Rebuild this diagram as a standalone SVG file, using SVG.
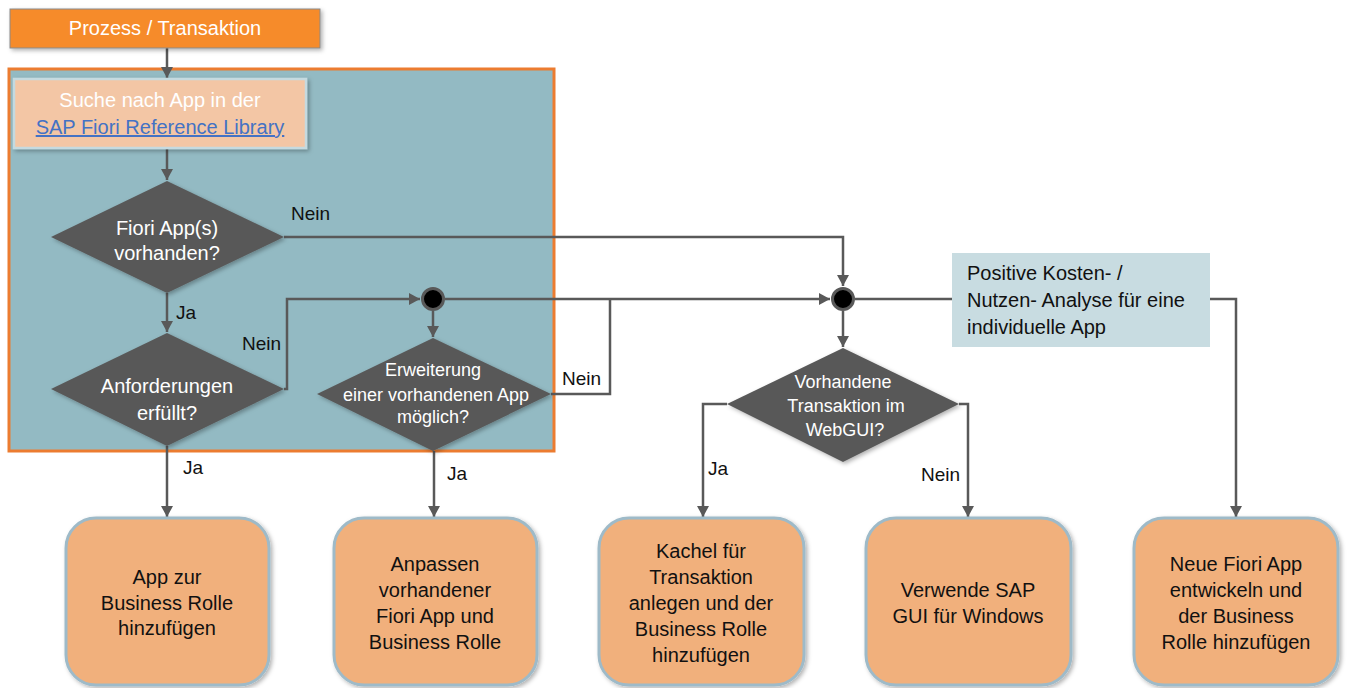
<svg xmlns="http://www.w3.org/2000/svg" width="1352" height="688" viewBox="0 0 1352 688">
<defs>
<style>
text{font-family:"Liberation Sans",Arial,sans-serif}
.w{fill:#ffffff}
.k{fill:#111111}
.c{text-anchor:middle}
.f20{font-size:20px}
.f18{font-size:18px}
.lbl{font-size:19px;fill:#111111}
.con{fill:none;stroke:#595959;stroke-width:2.5}
.dia{fill:#595959}
.res{fill:#F1B07B;stroke:#9EBAC8;stroke-width:3}
.jn{fill:#000000;stroke:#595959;stroke-width:3}
</style>
<marker id="ah" markerUnits="userSpaceOnUse" markerWidth="12" markerHeight="12" refX="11" refY="6" orient="auto">
<path d="M0,0 L11,6 L0,12 z" fill="#595959"/>
</marker>
<filter id="sh" x="-10%" y="-10%" width="130%" height="130%">
<feDropShadow dx="2" dy="2" stdDeviation="2" flood-color="#000000" flood-opacity="0.3"/>
</filter>
</defs>
<rect width="1352" height="688" fill="#ffffff"/>

<g id="container">
<rect x="9" y="69" width="545" height="382" fill="#93BAC3" stroke="#EC7C30" stroke-width="3"/>
</g>

<g id="connectors">
<line class="con" x1="167" y1="48" x2="167" y2="78" marker-end="url(#ah)"/>
<line class="con" x1="167" y1="148" x2="167" y2="180" marker-end="url(#ah)"/>
<line class="con" x1="167" y1="293" x2="167" y2="332" marker-end="url(#ah)"/>
<polyline class="con" points="284,389 287,389 287,299 420,299" marker-end="url(#ah)"/>
<line class="con" x1="433" y1="311" x2="433" y2="337" marker-end="url(#ah)"/>
<line class="con" x1="445" y1="299" x2="830" y2="299" marker-end="url(#ah)"/>
<polyline class="con" points="551,394 610,394 610,299"/>
<polyline class="con" points="284,237 843,237 843,286" marker-end="url(#ah)"/>
<line class="con" x1="855" y1="299" x2="952" y2="299"/>
<line class="con" x1="843" y1="311" x2="843" y2="347" marker-end="url(#ah)"/>
<polyline class="con" points="727,404 703,404 703,517" marker-end="url(#ah)"/>
<polyline class="con" points="959,404 968,404 968,517" marker-end="url(#ah)"/>
<polyline class="con" points="1210,299 1236,299 1236,517" marker-end="url(#ah)"/>
<line class="con" x1="167" y1="446" x2="167" y2="517" marker-end="url(#ah)"/>
<line class="con" x1="434" y1="451" x2="434" y2="517" marker-end="url(#ah)"/>
<text class="lbl" x="291" y="220">Nein</text>
<text class="lbl" x="176" y="319">Ja</text>
<text class="lbl" x="242" y="350">Nein</text>
<text class="lbl" x="562" y="385">Nein</text>
<text class="lbl" x="183" y="474">Ja</text>
<text class="lbl" x="447" y="480">Ja</text>
<text class="lbl" x="708" y="475">Ja</text>
<text class="lbl" x="921" y="481">Nein</text>
</g>

<g id="start">
<rect x="10" y="9" width="310" height="39" fill="#F68B2A" stroke="#8a8a8a" stroke-width="1" filter="url(#sh)"/>
<text class="w c f20" x="165" y="35">Prozess / Transaktion</text>
</g>

<g id="search">
<rect x="14" y="79" width="292" height="69" fill="#F3C6A5" stroke="#C5DAE0" stroke-width="2.5" filter="url(#sh)"/>
<text class="w c f20" x="160" y="107">Suche nach App in der</text>
<text class="c f20" x="160" y="134" fill="#4472C4" text-decoration="underline">SAP Fiori Reference Library</text>
</g>

<g id="d1">
<polygon class="dia" points="167,181 284,237 167,293 51,237" filter="url(#sh)"/>
<text class="w c f20" x="167" y="235">Fiori App(s)</text>
<text class="w c f20" x="167" y="260">vorhanden?</text>
</g>

<g id="d2">
<polygon class="dia" points="167,333 284,389 167,446 51,389" filter="url(#sh)"/>
<text class="w c f20" x="167" y="393">Anforderungen</text>
<text class="w c f20" x="167" y="420">erfüllt?</text>
</g>

<g id="j1">
<circle class="jn" cx="433" cy="299" r="10.5"/>
</g>

<g id="d3">
<polygon class="dia" points="433,338 551,394 433,451 317,394" filter="url(#sh)"/>
<text class="w c f18" x="433" y="376">Erweiterung</text>
<text class="w c f18" x="436" y="401">einer vorhandenen App</text>
<text class="w c f18" x="433" y="423">möglich?</text>
</g>

<g id="j2">
<circle class="jn" cx="843" cy="299" r="10.5"/>
</g>

<g id="d4">
<polygon class="dia" points="843,348 959,404 843,462 727,404" filter="url(#sh)"/>
<text class="w c f18" x="843" y="388">Vorhandene</text>
<text class="w c f18" x="846" y="412">Transaktion im</text>
<text class="w c f18" x="845" y="436">WebGUI?</text>
</g>

<g id="cost">
<rect x="952" y="253" width="258" height="94" fill="#C8DCE1"/>
<text class="k f20" x="967" y="280">Positive Kosten- /</text>
<text class="k f20" x="967" y="307">Nutzen-  Analyse für eine</text>
<text class="k f20" x="967" y="334">individuelle App</text>
</g>

<g id="r1">
<rect class="res" x="66" y="518" width="203" height="167" rx="30" filter="url(#sh)"/>
<text class="k c f20" x="167" y="584">App  zur</text>
<text class="k c f20" x="167" y="610">Business Rolle</text>
<text class="k c f20" x="167" y="635">hinzufügen</text>
</g>

<g id="r2">
<rect class="res" x="334" y="518" width="203" height="167" rx="30" filter="url(#sh)"/>
<text class="k c f20" x="435" y="571">Anpassen</text>
<text class="k c f20" x="435" y="597">vorhandener</text>
<text class="k c f20" x="435" y="623">Fiori App  und</text>
<text class="k c f20" x="435" y="649">Business Rolle</text>
</g>

<g id="r3">
<rect class="res" x="599" y="518" width="205" height="167" rx="30" filter="url(#sh)"/>
<text class="k c f20" x="701" y="558">Kachel für</text>
<text class="k c f20" x="701" y="584">Transaktion</text>
<text class="k c f20" x="701" y="610">anlegen und der</text>
<text class="k c f20" x="701" y="636">Business Rolle</text>
<text class="k c f20" x="701" y="662">hinzufügen</text>
</g>

<g id="r4">
<rect class="res" x="866" y="518" width="205" height="167" rx="30" filter="url(#sh)"/>
<text class="k c f20" x="968" y="597">Verwende SAP</text>
<text class="k c f20" x="968" y="623">GUI  für Windows</text>
</g>

<g id="r5">
<rect class="res" x="1134" y="518" width="204" height="167" rx="30" filter="url(#sh)"/>
<text class="k c f20" x="1236" y="571">Neue Fiori App</text>
<text class="k c f20" x="1236" y="597">entwickeln und</text>
<text class="k c f20" x="1236" y="623">der Business</text>
<text class="k c f20" x="1236" y="649">Rolle hinzufügen</text>
</g>
</svg>
